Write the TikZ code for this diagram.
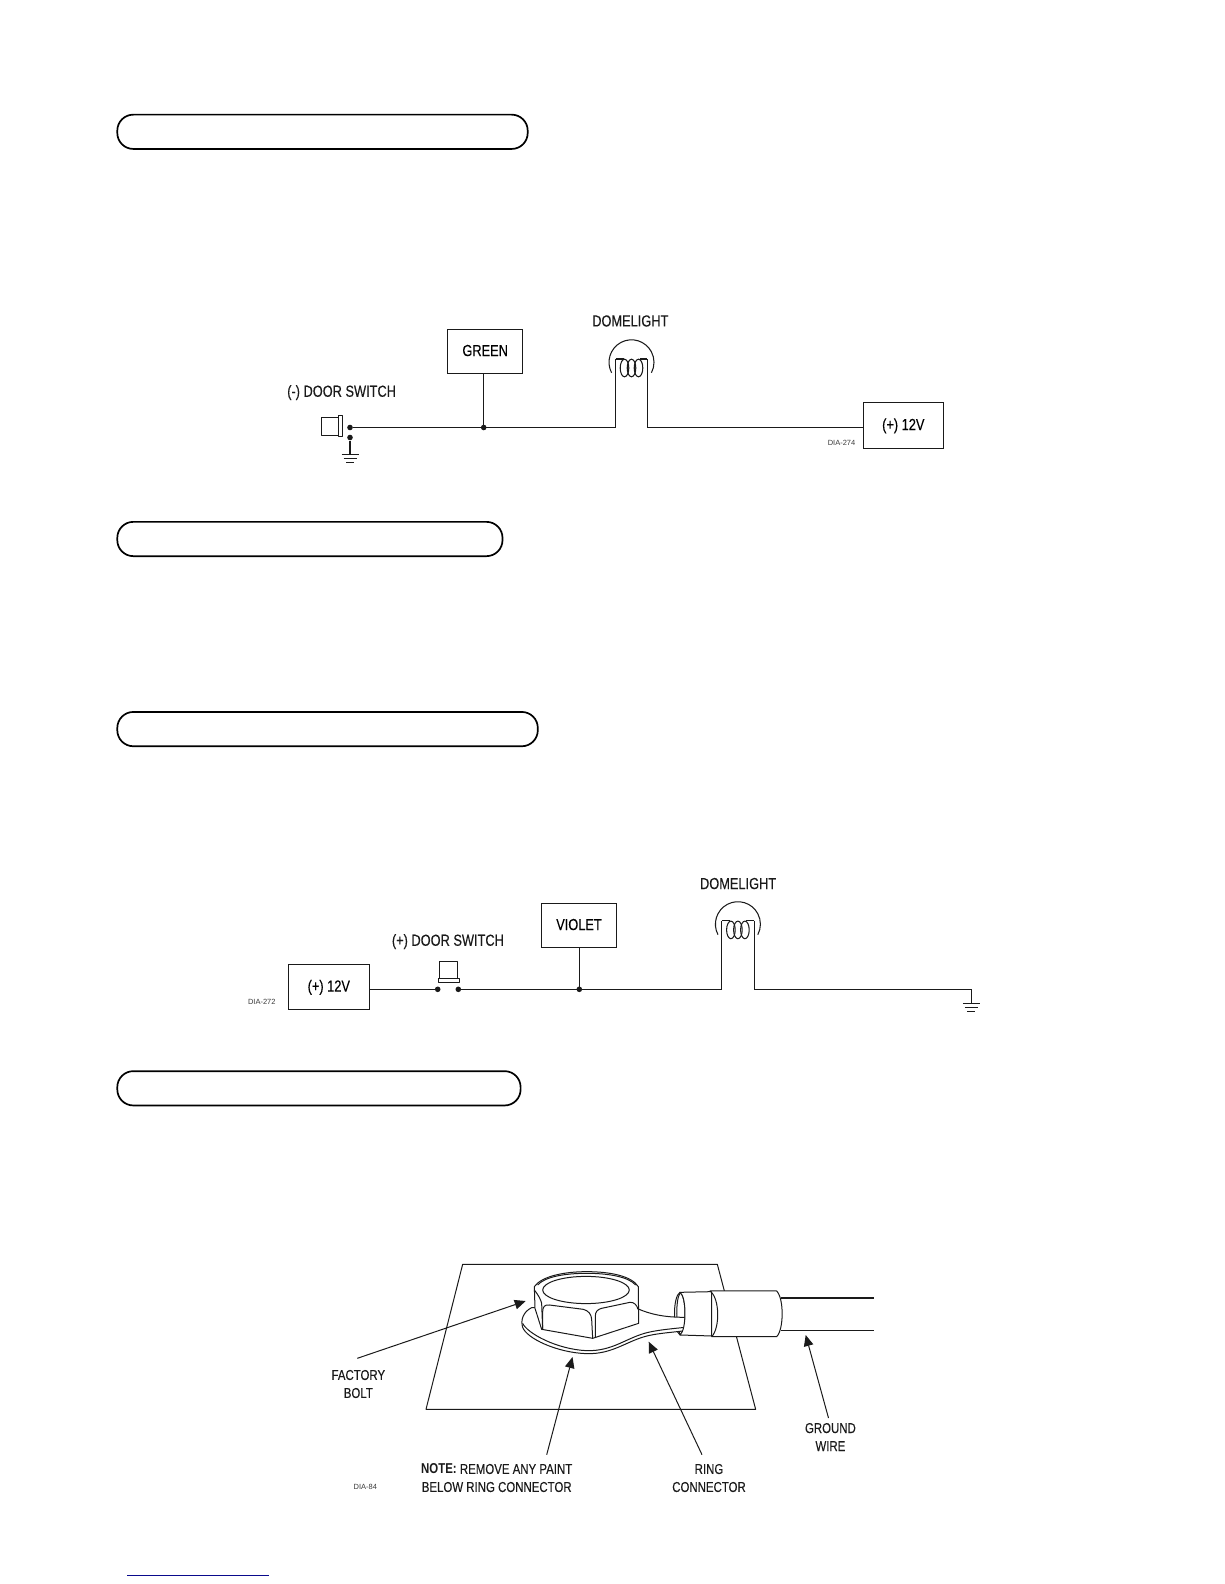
\documentclass[tikz,border=0pt]{standalone}
\usepackage{fontspec}
\setmainfont[FakeStretch=0.8,FakeBold=0.25,BoldFeatures={FakeStretch=0.8,FakeBold=0}]{Liberation Sans}
\newfontfamily\tagfont{Liberation Sans}
\usetikzlibrary{arrows.meta,calc}
\definecolor{ink}{HTML}{1A1A1A}
\tikzset{
  pill/.style={draw=black,line width=1.7pt,rounded corners=16pt,inner sep=0pt,minimum height=34.3pt},
  boxn/.style={draw=ink,line width=1pt,inner sep=0pt,text height=11.5pt,text depth=2pt,font=\fontsize{16}{18}\selectfont},
  wire/.style={draw=ink,line width=1.05pt},
  dotn/.style={circle,fill=ink,inner sep=0pt,minimum size=5.6pt},
  lbl/.style={inner sep=0pt,text=ink,text height=11.5pt,text depth=0pt,font=\fontsize{16}{18}\selectfont},
  small/.style={inner sep=0pt,text=ink,align=center,font=\fontsize{14.3}{18}\selectfont},
  dia/.style={inner sep=0pt,text=ink!85,font=\tagfont\fontsize{7.5}{9}\selectfont},
  arr/.style={draw=ink,line width=1pt,-{Triangle[length=11pt,width=9.5pt]}},
  art/.style={draw=ink,line width=1pt,line join=round},
}
\newcommand{\gnd}[1]{
  \draw[wire] ($(#1)+(-8.5,0)$) -- ($(#1)+(8.5,0)$);
  \draw[wire] ($(#1)+(-6.5,4)$) -- ($(#1)+(6.5,4)$);
  \draw[wire] ($(#1)+(-4,8)$) -- ($(#1)+(4,8)$);
}
\newcommand{\domelamp}[1]{
  \draw[wire] ($(#1)+(-19.9,10.5)$) arc[start angle=207.8,end angle=-27.8,radius=22.5pt];
  \draw[wire] ($(#1)+(-15.7,-3.3)$) -- ($(#1)+(-8,-3.3)$);
  \draw[wire] ($(#1)+(8,-3.3)$) -- ($(#1)+(15.7,-3.3)$);
  \foreach \dx in {-7,0,7}
    \draw[wire] ($(#1)+(\dx,5.7)$) ellipse[x radius=4.3pt,y radius=8.8pt];
}
\begin{document}
\begin{tikzpicture}[x=1pt,y=-1pt]
\useasboundingbox (0,0) rectangle (1224,1584);

% section bars
\node[pill,minimum width=410.4pt] (pilla) at (322.5,131.8) {};
\node[pill,minimum width=385.2pt] (pillb) at (309.9,539) {};
\node[pill,minimum width=420.5pt] (pillc) at (327.55,729.1) {};
\node[pill,minimum width=403.3pt] (pilld) at (318.95,1088.3) {};

% diagram 1
\node[boxn,minimum width=75pt,minimum height=44pt] (green) at (485.2,351.3) {GREEN};
\node[boxn,minimum width=80.5pt,minimum height=45.4pt] (vplusa) at (903.3,425.3) {(+) 12V};
\node[lbl] (dsa) at (341.6,391) {(-) DOOR SWITCH};
\node[lbl] (doma) at (630.3,320.7) {DOMELIGHT};
\node[dia] (diaa) at (841.5,442.5) {DIA-274};
\node[dotn] (sa) at (350,427.5) {};
\node[dotn] (sb) at (350,437.5) {};
\node[dotn] (ja) at (483.7,427.5) {};
\coordinate (gnda) at (350,454.5);
\coordinate (la) at (631.5,362.3);
\coordinate (lal) at (615.7,359);
\coordinate (lar) at (647.3,359);
\draw[art] (321,417.3) rectangle (338.3,435);
\draw[art] (338.3,415.3) rectangle (342.3,436);
\draw[wire] (sa) -- (ja.center) -| (lal);
\draw[wire] (lar) |- (vplusa.west |- ja);
\draw[wire] (ja.center) -- (ja |- green.south);
\draw[wire] (sb) -- (gnda);
\gnd{gnda}
\domelamp{la}

% diagram 2
\node[boxn,minimum width=81.3pt,minimum height=45pt] (vplusb) at (328.8,986.8) {(+) 12V};
\node[boxn,minimum width=74.7pt,minimum height=44pt] (violet) at (579,925.3) {VIOLET};
\node[lbl] (dsb) at (447.9,940) {(+) DOOR SWITCH};
\node[lbl] (domb) at (738.1,883.3) {DOMELIGHT};
\node[dia] (diab) at (261.8,1001.7) {DIA-272};
\node[dotn] (sc) at (437.7,989.3) {};
\node[dotn] (sd) at (458.3,989.3) {};
\node[dotn] (jb) at (579.3,989.3) {};
\coordinate (gndb) at (971.3,1003.3);
\coordinate (lb) at (737.9,924.2);
\coordinate (lbl) at (721.4,920.7);
\coordinate (lbr) at (754.4,920.7);
\draw[art] (439.7,961.3) rectangle (457.3,978.3);
\draw[art] (438,978.3) rectangle (459.3,982.3);
\draw[wire] (vplusb.east |- sc) -- (sc);
\draw[wire] (sd) -- (jb.center) -| (lbl);
\draw[wire] (lbr) |- (gndb |- jb) -- (gndb);
\draw[wire] (jb.center) -- (jb |- violet.south);
\gnd{gndb}
\domelamp{lb}

% ground drawing (in 3x units of the local crop)
\begin{scope}[x=0.33333pt,y=-0.33333pt,shift={(1230,3720)}]
  \draw[art] (158,73) -- (922,73) -- (1037,508) -- (48,508) -- cycle;
  % sleeve opening
  \draw[art,fill=white] (810,157) .. controls (788,170) and (788,270) .. (810,285) .. controls (830,270) and (830,170) .. (810,157) -- cycle;
  \draw[art] (810,160) .. controls (797,175) and (797,265) .. (810,282);
  % ring connector
  \draw[art,fill=white] (365,203) .. controls (340,215) and (331,240) .. (338,262)
     .. controls (350,295) and (440,338) .. (530,341)
     .. controls (610,343) and (650,302) .. (715,287)
     .. controls (750,279) and (790,277) .. (825,272)
     -- (825,232) .. controls (760,232) and (720,222) .. (685,207) -- cycle;
  \draw[art] (338,250) .. controls (352,280) and (440,328) .. (530,332)
     .. controls (610,334) and (650,292) .. (715,277)
     .. controls (750,269) and (790,266) .. (825,262);
  % nut
  \draw[art,fill=white] (373,140) .. controls (395,108) and (465,95) .. (530,95)
     .. controls (600,95) and (665,108) .. (685,140)
     -- (686,250) -- (548,295) -- (395,268) -- (375,205) -- cycle;
  \draw[art] (383,135) .. controls (405,110) and (465,100) .. (530,100)
     .. controls (595,100) and (655,110) .. (677,135);
  \draw[art] (528,150) ellipse[x radius=43.3pt,y radius=13.6pt];
  \draw[art] (373,150) .. controls (385,165) and (392,178) .. (395,190) -- (398,268);
  \draw[art] (398,268) -- (398,215) .. controls (398,200) and (405,193) .. (418,195)
     -- (520,208) .. controls (535,212) and (544,222) .. (545,238) -- (548,295);
  \draw[art] (556,293) -- (556,228) .. controls (556,215) and (563,208) .. (575,205)
     -- (660,187) .. controls (672,186) and (681,195) .. (684,208);
  % sleeves
  \draw[art,fill=white] (810,157) -- (905,155) -- (905,288) -- (810,285)
     .. controls (830,270) and (830,170) .. (810,157) -- cycle;
  \draw[art,fill=white] (900,153) -- (1100,153) .. controls (1122,175) and (1122,268) .. (1100,290)
     -- (905,290) .. controls (930,265) and (930,175) .. (900,153) -- cycle;
  % wire
  \draw[draw=ink,line width=1.8pt] (1114,173) -- (1392,173);
  \draw[draw=ink,line width=1pt] (1114,271.5) -- (1392,271.5);
\end{scope}

\node[small] (fb) at (358.3,1384) {FACTORY\\[0pt]BOLT};
\node[small] (nt) at (496.7,1478) {\textbf{NOTE:} REMOVE ANY PAINT\\[0pt]BELOW RING CONNECTOR};
\node[small] (rc) at (709,1478) {RING\\[0pt]CONNECTOR};
\node[small] (gw) at (830.4,1437) {GROUND\\[0pt]WIRE};
\node[dia] (diac) at (365.3,1487.3) {DIA-84};

\coordinate (fbs) at (357.3,1358.3);
\coordinate (fbt) at (525.7,1301);
\coordinate (nts) at (546.7,1454.7);
\coordinate (ntt) at (572.5,1357);
\coordinate (rcs) at (702,1454.7);
\coordinate (rct) at (648.7,1341.7);
\coordinate (gws) at (828.5,1418);
\coordinate (gwt) at (805.7,1335);
\draw[arr] (fbs) -- (fbt);
\draw[arr] (nts) -- (ntt);
\draw[arr] (rcs) -- (rct);
\draw[arr] (gws) -- (gwt);

% blue rule
\coordinate (ula) at (127,1575.3);
\coordinate (ulb) at (268.7,1575.3);
\draw[draw={rgb,255:red,10;green,10;blue,140},line width=1.2pt] (ula) -- (ulb);
\end{tikzpicture}
\end{document}
